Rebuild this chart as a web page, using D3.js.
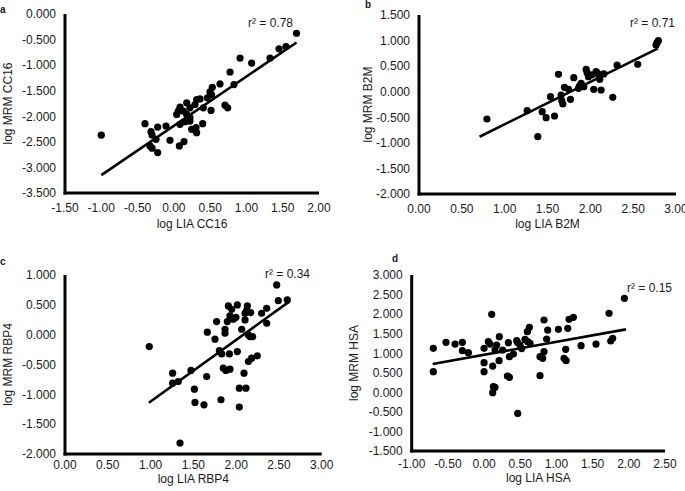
<!DOCTYPE html>
<html><head><meta charset="utf-8">
<script src="https://cdn.jsdelivr.net/npm/d3@7"></script>
<style>
body{margin:0;background:#fff;}
text{font-family:"Liberation Sans",Arial,Helvetica,sans-serif;fill:#1a1a1a;}
</style></head><body>
<svg id="c" width="685" height="491"></svg>
<script>
// ---- Data ----
const xA = [-1.00,1.69,1.545,1.449,1.325,0.912,1.072,0.774,0.829,0.636,0.53,0.498,0.461,0.705,0.742,0.512,0.406,0.314,0.291,0.222,0.085,0.13,0.039,0.177,0.222,0.222,0.085,0.154,0.245,0.314,0.397,0.305,-0.398,-0.223,-0.108,-0.315,-0.30,-0.246,-0.329,-0.30,-0.223,-0.053,0.076,0.14,0.062,0.177,0.36,0.52];
const yA = [-2.37,-0.376,-0.635,-0.68,-0.862,-0.862,-0.959,-1.134,-1.38,-1.367,-1.432,-1.523,-1.64,-1.782,-1.834,-1.886,-1.834,-1.672,-1.77,-1.834,-1.821,-1.899,-1.964,-1.964,-2.028,-2.093,-2.158,-2.106,-2.255,-2.32,-2.145,-2.223,-2.145,-2.21,-2.19,-2.30,-2.365,-2.45,-2.58,-2.624,-2.709,-2.469,-2.58,-2.495,-1.899,-1.737,-1.66,-1.58];
const fitA = [[-1.00,-3.15],[1.69,-0.557]];

const xB = [0.793,1.387,1.263,1.438,1.484,1.582,1.535,1.628,1.659,1.679,1.667,1.698,1.768,1.745,1.807,1.873,1.893,1.862,1.951,1.962,1.978,2.04,2.067,2.087,2.106,2.126,2.157,2.11,2.262,2.312,2.553,2.767,2.794,2.779,1.924,2.02];
const yB = [-0.534,-0.879,-0.37,-0.39,-0.507,-0.475,-0.097,0.34,-0.064,-0.24,-0.175,0.086,-0.149,0.047,0.275,0.112,0.164,0.066,0.438,0.373,0.294,0.047,0.392,0.36,0.281,0.034,0.347,0.242,-0.11,0.522,0.536,0.914,0.998,0.959,0.099,0.33];
const fitB = [[0.707,-0.88],[2.79,0.849]];

const xC = [0.985,1.344,1.258,1.258,1.324,1.472,1.512,1.519,1.624,1.656,1.663,1.753,1.772,1.804,1.831,1.823,1.85,1.87,1.87,1.921,1.928,1.909,1.948,1.928,1.967,1.998,1.897,2.014,2.014,2.037,2.037,2.065,2.092,2.115,2.104,2.104,2.131,2.123,2.17,2.143,2.162,2.193,2.143,2.181,2.247,2.298,2.357,2.357,2.474,2.493,2.598,1.88];
const yC = [-0.199,-1.816,-0.645,-0.813,-0.785,-0.60,-0.913,-1.136,-1.175,-0.701,0.041,-0.076,0.219,-0.266,-0.322,-1.091,-0.562,0.091,0.024,-0.322,-0.578,0.481,0.426,0.314,0.258,0.292,0.219,0.498,-0.283,-0.896,-1.214,0.091,-0.645,-0.896,0.247,0.359,0.481,0.403,0.37,-0.004,-0.032,-0.032,-0.45,-0.394,-0.355,0.359,0.442,0.191,0.833,0.57,0.582,-0.60];
const fitC = [[0.98,-1.14],[2.62,0.553]];

const xD = [-0.701,-0.701,-0.526,-0.401,-0.30,-0.30,-0.217,0.0,0.0,0.0,0.059,0.082,0.105,0.119,0.128,0.119,0.151,0.174,0.211,0.207,0.151,0.257,0.336,0.35,0.322,0.35,0.405,0.451,0.465,0.497,0.566,0.598,0.626,0.603,0.635,0.773,0.773,0.81,0.828,0.828,0.865,0.879,1.027,1.105,1.133,1.128,1.156,1.174,1.234,1.34,1.547,1.727,1.75,1.777,1.939,0.52,0.46];
const yD = [1.124,0.528,1.278,1.235,1.278,1.065,1.013,1.124,0.758,0.528,1.295,1.235,1.994,0.672,0.144,-0.01,0.127,1.21,1.423,0.809,1.082,1.082,1.269,0.911,0.417,0.383,0.98,1.32,-0.538,1.21,1.354,1.551,1.661,1.295,1.252,0.911,0.425,0.869,1.039,1.849,1.363,1.593,1.61,0.869,0.809,1.099,1.636,1.866,1.917,1.193,1.235,2.02,1.312,1.38,2.403,1.12,1.28];
const fitD = [[-0.71,0.724],[1.96,1.61]];

const xTicksA = [-1.5,-1.0,-0.5,0,0.5,1.0,1.5,2.0];
const yTicksA = [0,-0.5,-1.0,-1.5,-2.0,-2.5,-3.0,-3.5];
const xTicksB = [0,0.5,1.0,1.5,2.0,2.5,3.0];
const yTicksB = [1.5,1.0,0.5,0,-0.5,-1.0,-1.5,-2.0];
const xTicksC = [0,0.5,1.0,1.5,2.0,2.5,3.0];
const yTicksC = [1.0,0.5,0,-0.5,-1.0,-1.5,-2.0];
const xTicksD = [-1.0,-0.5,0,0.5,1.0,1.5,2.0,2.5];
const yTicksD = [3.0,2.5,2.0,1.5,1.0,0.5,0,-0.5,-1.0,-1.5];

const panelLetters = ["a","b","c","d"];
const xTitles = ["log LIA CC16","log LIA B2M","log LIA RBP4","log LIA HSA"];
const yTitles = ["log MRM CC16","log MRM B2M","log MRM RBP4","log MRM HSA"];
const r2Labels = ["r\u00B2 = 0.78","r\u00B2 = 0.71","r\u00B2 = 0.34","r\u00B2 = 0.15"];

// ---- Layout ----
const loc = d3.formatLocale({decimal:".",thousands:",",grouping:[3],currency:["",""],minus:"-"});
const fx = loc.format(".2f"), fy = loc.format(".3f");
const svg = d3.select("#c");

const panels = [
  {xs:xA, ys:yA, fit:fitA, xt:xTicksA, yt:yTicksA, xr:[65,319], yr:[193,14], lx:0, ly:13, r2:[293,27], ytx:12, xtickY:212, xtitle:228},
  {xs:xB, ys:yB, fit:fitB, xt:xTicksB, yt:yTicksB, xr:[419,676], yr:[194,15], lx:365, ly:8, r2:[675,27], ytx:372, xtickY:213, xtitle:228},
  {xs:xC, ys:yC, fit:fitC, xt:xTicksC, yt:yTicksC, xr:[65,321.7], yr:[454,275], lx:0, ly:265, r2:[310,278], ytx:12, xtickY:469, xtitle:483},
  {xs:xD, ys:yD, fit:fitD, xt:xTicksD, yt:yTicksD, xr:[411.7,665], yr:[451,275], lx:392, ly:262, r2:[672,292], ytx:358, xtickY:468, xtitle:482},
];

panels.forEach((p,i)=>{
  const g = svg.append("g");
  const x = d3.scaleLinear().domain(d3.extent(p.xt)).range(p.xr);
  const y = d3.scaleLinear().domain(d3.extent(p.yt)).range([p.yr[0],p.yr[1]]);
  const x0 = p.xr[0], yb = p.yr[0];
  g.selectAll(".yl").data(p.yt).join("text")
    .attr("x", x0-9).attr("y", d=>y(d)).attr("dy","0.36em")
    .attr("text-anchor","end").attr("font-size",12).text(d=>fy(d));
  g.selectAll(".xl").data(p.xt).join("text")
    .attr("x", d=>x(d)).attr("y", p.xtickY)
    .attr("text-anchor","middle").attr("font-size",12).text(d=>fx(d));
  g.append("line").attr("x1",x0).attr("x2",x0).attr("y1",y(d3.max(p.yt))).attr("y2",yb+1.5)
    .attr("stroke","#000").attr("stroke-width",3);
  g.append("line").attr("x1",x0-1.5).attr("x2",x(d3.max(p.xt))).attr("y1",yb).attr("y2",yb)
    .attr("stroke","#000").attr("stroke-width",3);
  const pts = p.xs.map((v,k)=>[v,p.ys[k]]);
  g.selectAll("circle").data(pts).join("circle")
    .attr("cx",d=>x(d[0])).attr("cy",d=>y(d[1])).attr("r",3.6).attr("fill","#000");
  g.append("path").attr("d", d3.line().x(d=>x(d[0])).y(d=>y(d[1]))(p.fit))
    .attr("stroke","#000").attr("stroke-width",2.6).attr("fill","none");
  g.append("text").attr("x",p.r2[0]).attr("y",p.r2[1]).attr("text-anchor","end")
    .attr("font-size",12).text(r2Labels[i]);
  g.append("text").attr("x",(p.xr[0]+p.xr[1])/2).attr("y",p.xtitle).attr("text-anchor","middle")
    .attr("font-size",12).text(xTitles[i]);
  const cy = (p.yr[0]+p.yr[1])/2;
  g.append("text").attr("transform",`translate(${p.ytx},${cy}) rotate(-90)`).attr("text-anchor","middle")
    .attr("font-size",12).text(yTitles[i]);
  g.append("text").attr("x",p.lx).attr("y",p.ly).attr("font-size",10).attr("font-weight","bold")
    .text(panelLetters[i]);
});
</script></body></html>
